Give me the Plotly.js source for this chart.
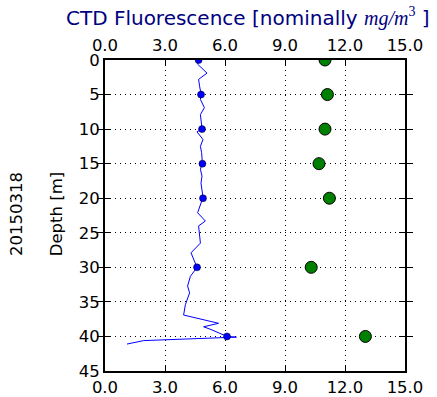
<!DOCTYPE html>
<html><head><meta charset="utf-8">
<script src="https://cdn.plot.ly/plotly-3.0.1.min.js"></script>
<style>body{margin:0;padding:0;background:#fff}</style>
</head><body>
<div id="chart" style="width:437px;height:397px"></div>
<script>
// CTD profile (continuous)
const ctdDepth = [0, 0.6, 1.9, 2.8, 3.8, 4.9, 5.7, 6.9, 7.9, 9.9, 10.4, 11.5, 12.5, 13.4, 14.9, 15.8, 16.8, 17.8, 19.9, 21.1, 22.1, 23.3, 24.0, 26.5, 27.9, 30.0, 31.3, 32.7, 33.7, 35.4, 36.9, 38.1, 38.6, 39.0, 40.0, 40.1, 40.6, 41.1];
const ctdFluor = [4.68, 4.63, 5.1, 4.68, 4.73, 4.8, 4.77, 4.97, 4.77, 4.85, 4.6, 4.9, 4.77, 4.83, 4.87, 4.77, 4.85, 4.8, 4.9, 4.77, 4.63, 5.02, 4.68, 4.77, 4.3, 4.6, 4.27, 4.13, 4.23, 4.02, 3.93, 5.68, 4.93, 5.3, 6.1, 6.57, 1.94, 1.1];
// Bottle depths
const bottleDepth = [0, 5, 10, 15, 20, 30, 40];
const ctdAtBottle = [4.68, 4.8, 4.85, 4.87, 4.9, 4.6, 6.1];
const sampleFluor = [11.0, 11.12, 11.0, 10.7, 11.22, 10.31, 13.02];
const xTicks = [0, 3, 6, 9, 12, 15];
const xTickText = ['0.0', '3.0', '6.0', '9.0', '12.0', '15.0'];
const yTicks = [0, 5, 10, 15, 20, 25, 30, 35, 40, 45];

const traces = [
  {x: ctdFluor, y: ctdDepth, mode: 'lines', line: {color: '#0000ff', width: 1}, xaxis: 'x', yaxis: 'y', hoverinfo: 'skip'},
  {x: ctdAtBottle, y: bottleDepth, mode: 'markers', marker: {color: '#0000ff', size: 7, line: {color: '#000', width: 0.5}}, xaxis: 'x', yaxis: 'y'},
  {x: sampleFluor, y: bottleDepth, mode: 'markers', marker: {color: '#008000', size: 12, line: {color: '#000', width: 1}}, xaxis: 'x', yaxis: 'y'},
  {x: [], y: [], xaxis: 'x2', yaxis: 'y', mode: 'markers', hoverinfo: 'skip'}
];

const font = {family: 'DejaVu Sans', size: 16.5, color: '#000'};
const axBase = {
  range: [0, 15], tickvals: xTicks, ticktext: xTickText,
  ticks: 'inside', ticklen: 6, tickwidth: 1, tickcolor: '#000',
  showline: true, linecolor: '#000', linewidth: 2,
  zeroline: false, tickfont: font, fixedrange: true
};
const layout = {
  width: 437, height: 397,
  margin: {l: 104.5, r: 32, t: 60, b: 26},
  paper_bgcolor: '#fff', plot_bgcolor: '#fff',
  showlegend: false,
  font: font,
  title: {
    text: 'CTD Fluorescence [nominally <span style="font-family:\'Liberation Serif\'"><i>mg/m</i><sup>3</sup></span> ]',
    font: {family: 'DejaVu Sans', size: 20, color: '#000080'},
    x: 0.476, xref: 'paper', xanchor: 'center', y: 0.955, yanchor: 'middle'
  },
  xaxis: Object.assign({}, axBase, {
    side: 'bottom', anchor: 'y',
    showgrid: true, gridcolor: '#000', gridwidth: 1, griddash: '1px,4px'
  }),
  xaxis2: Object.assign({}, axBase, {
    side: 'top', overlaying: 'x', anchor: 'y', showgrid: false
  }),
  yaxis: {
    range: [45, 0], tickvals: yTicks,
    ticks: 'inside', ticklen: 6, tickwidth: 1, tickcolor: '#000',
    showline: true, linecolor: '#000', linewidth: 2, mirror: 'allticks',
    zeroline: false, tickfont: font, fixedrange: true,
    showgrid: true, gridcolor: '#000', gridwidth: 1, griddash: '1px,4px'
  },
  annotations: [
    {text: 'Depth [m]', textangle: -90, xref: 'paper', yref: 'paper', x: -0.161, y: 0.503, xanchor: 'center', yanchor: 'middle', showarrow: false, font: font},
    {text: '20150318', textangle: -90, xref: 'paper', yref: 'paper', x: -0.295, y: 0.503, xanchor: 'center', yanchor: 'middle', showarrow: false, font: font}
  ]
};
Plotly.newPlot('chart', traces, layout, {displayModeBar: false, staticPlot: true});
</script>
</body></html>
